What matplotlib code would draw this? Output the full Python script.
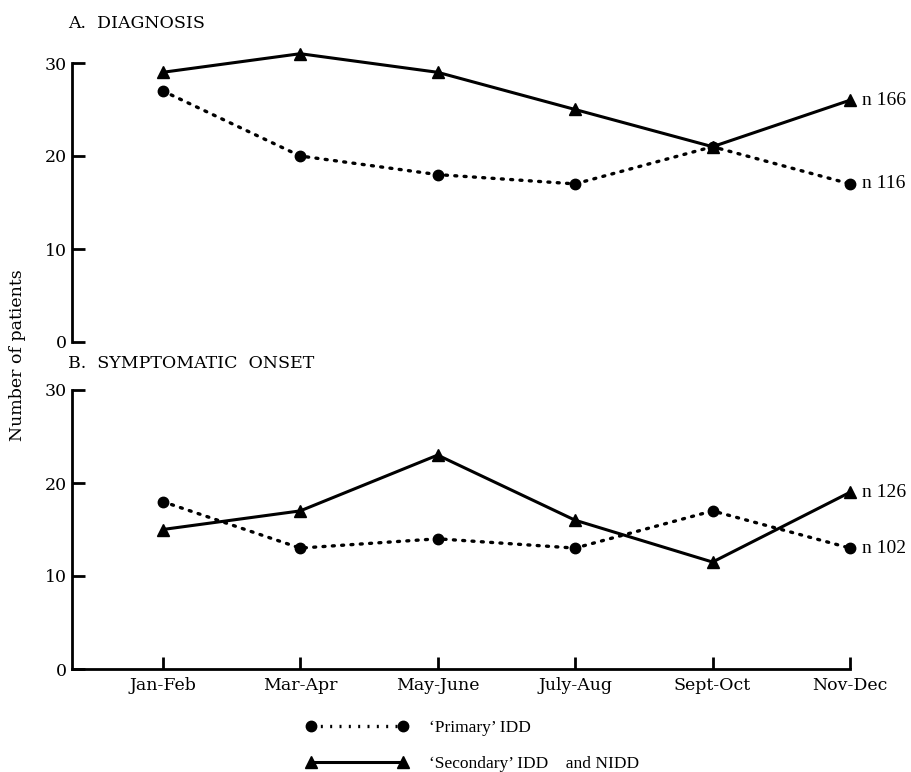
import matplotlib.pyplot as plt
from matplotlib.lines import Line2D

plt.rcParams['font.family'] = ['DejaVu Serif']

months = ["Jan-Feb", "Mar-Apr", "May-June", "July-Aug", "Sept-Oct", "Nov-Dec"]

# A. diagnosis
diag_primary = [27, 20, 18, 17, 21, 17]
diag_secondary = [29, 31, 29, 25, 21, 26]
# B. symptomatic onset
onset_primary = [18, 13, 14, 13, 17, 13]
onset_secondary = [15, 17, 23, 16, 11.5, 19]

n_labels = {"diag_primary": "n 116", "diag_secondary": "n 166",
            "onset_primary": "n 102", "onset_secondary": "n 126"}

fig = plt.figure(figsize=(9.11, 7.72), dpi=100)
left, width = 72 / 911, (850 - 72) / 911
ax1 = fig.add_axes([left, (772 - 342) / 772, width, (342 - 63) / 772])
ax2 = fig.add_axes([left, (772 - 669) / 772, width, (669 - 390) / 772])

x = list(range(len(months)))
fs = 12.5
times = 'Liberation Serif'

def draw(ax, prim, sec, lab_p, lab_s):
    ax.plot(x, prim, linestyle=(0, (0.6, 2.2)), color='black', lw=2.4,
            marker='o', ms=7.5, clip_on=False, dash_capstyle='round')
    ax.plot(x, sec, linestyle='-', color='black', lw=2.2,
            marker='^', ms=9, clip_on=False)
    ax.annotate(lab_p, (x[-1], prim[-1]), xytext=(9, 0), textcoords='offset points',
                va='center', ha='left', fontsize=14, family=times)
    ax.annotate(lab_s, (x[-1], sec[-1]), xytext=(9, 0), textcoords='offset points',
                va='center', ha='left', fontsize=14, family=times)
    ax.set_xlim(-0.66, 5)
    ax.set_ylim(0, 30)
    ax.set_yticks([0, 10, 20, 30])
    for s in ['top', 'right']:
        ax.spines[s].set_visible(False)
    ax.spines['left'].set_linewidth(2)
    ax.tick_params(axis='y', direction='in', length=9, width=2, labelsize=fs, pad=4)

draw(ax1, diag_primary, diag_secondary, n_labels["diag_primary"], n_labels["diag_secondary"])
draw(ax2, onset_primary, onset_secondary, n_labels["onset_primary"], n_labels["onset_secondary"])

ax1.spines['bottom'].set_visible(False)
ax1.set_xticks([])
ax2.spines['bottom'].set_linewidth(2)
ax2.set_xticks(x)
ax2.set_xticklabels(months)
ax2.tick_params(axis='x', direction='in', length=9, width=2, labelsize=fs, pad=6)

fig.text(68 / 911, 1 - 24 / 772, "A.  DIAGNOSIS", fontsize=fs, va='center', ha='left')
fig.text(68 / 911, 1 - 363 / 772, "B.  SYMPTOMATIC  ONSET", fontsize=fs, va='center', ha='left')
fig.text(18 / 911, 1 - 355 / 772, "Number of patients", rotation=90, fontsize=fs,
         va='center', ha='center')

h1 = Line2D([], [], linestyle=(0, (0.6, 2.2)), color='black', lw=2.4, marker='o', ms=7.5)
h2 = Line2D([], [], linestyle='-', color='black', lw=2.2, marker='^', ms=9)
fig.legend([h1, h2], ["\u2018Primary\u2019 IDD", "\u2018Secondary\u2019 IDD    and NIDD"],
           loc='upper left', bbox_to_anchor=(292 / 911, (772 - 706) / 772), frameon=False,
           numpoints=2, handlelength=5.9, prop={'family': times, 'size': fs},
           labelspacing=1.15, handletextpad=1.2, borderpad=0.3)

fig.savefig("out.png", dpi=100)
